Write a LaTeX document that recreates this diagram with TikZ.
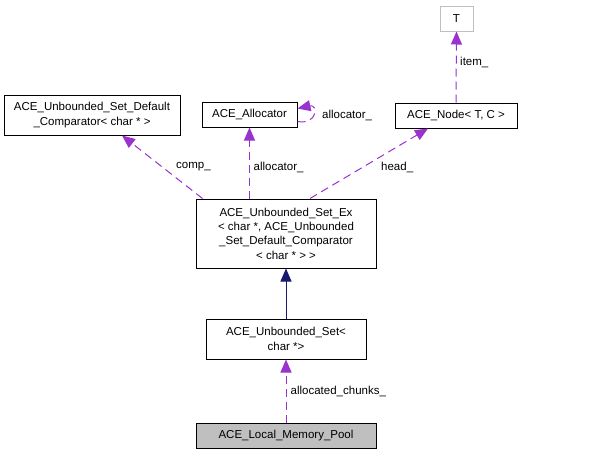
\documentclass[tikz,border=0pt]{standalone}
\usepackage{fontspec}
\setmainfont{Liberation Sans}
\usetikzlibrary{arrows.meta, positioning}
\definecolor{dxpurple}{HTML}{9A32CD}
\definecolor{dxnavy}{HTML}{191970}
\definecolor{dxgray}{HTML}{BFBFBF}

\begin{document}
\begin{tikzpicture}[
  x=1pt, y=-1pt,
  every node/.style={font=\fontsize{11.5}{14.3}\selectfont},
  cls/.style={rectangle, draw=black, line width=1pt, inner sep=0pt, align=center},
  lbl/.style={anchor=west, inner sep=0pt},
  use/.style={-{Triangle[length=13pt, width=11pt]}, dxpurple, line width=1pt, dash pattern=on 8pt off 5pt},
  inh/.style={-{Triangle[length=13pt, width=11pt]}, dxnavy, line width=1pt},
]
\useasboundingbox (0,0) rectangle (599,455);

% Classes
\node[cls, draw=dxgray, minimum width=33pt, minimum height=25pt] (tpar) at (456.5,18.5) {T};
\node[cls, minimum width=122pt, minimum height=25pt] (node) at (456,115.5) {ACE\_Node< T, C >};
\node[cls, minimum width=95pt, minimum height=25pt] (alloc) at (249.5,114.5) {ACE\_Allocator};
\node[cls, minimum width=176pt, minimum height=40pt] (comp) at (92,115) {ACE\_Unbounded\_Set\_Default\\\_Comparator< char * >};
\node[cls, minimum width=180pt, minimum height=69pt] (setex) at (286,233.5) {ACE\_Unbounded\_Set\_Ex\\< char *, ACE\_Unbounded\\\_Set\_Default\_Comparator\\< char * > >};
\node[cls, minimum width=160pt, minimum height=40pt] (uset) at (286,339) {ACE\_Unbounded\_Set<\\char *>};
\node[cls, fill=dxgray, minimum width=180pt, minimum height=25pt] (pool) at (286,435.5) {ACE\_Local\_Memory\_Pool};

% Labels
\node[lbl] (litem) at (460,62) {item\_};
\node[lbl] (lcomp) at (176,167) {comp\_};
\node[lbl] (lalloc) at (253.5,167) {allocator\_};
\node[lbl] (lhead) at (381,167) {head\_};
\node[lbl] (lself) at (322,115) {allocator\_};
\node[lbl] (lchunks) at (290.5,391) {allocated\_chunks\_};

% Connections
\draw[use] (node.north) -- (tpar.south);
\draw[use] ([xshift=7pt]setex.north west) -- ([xshift=30pt]comp.south);
\draw[use] (setex.north -| alloc.south) -- (alloc.south);
\draw[use] ([xshift=24pt]setex.north) -- ([xshift=-28pt]node.south);
\draw[use] ([yshift=-7pt]alloc.east) .. controls (318,125) and (318,104) .. ([yshift=6pt]alloc.east);
\draw[inh] (uset) -- (setex);
\draw[use] (pool) -- (uset);

\end{tikzpicture}
\end{document}
